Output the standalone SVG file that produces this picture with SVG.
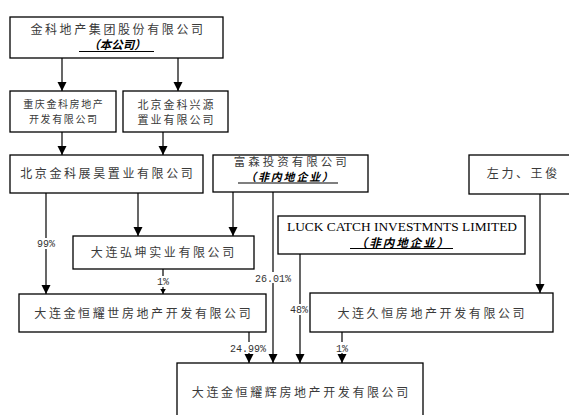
<svg xmlns="http://www.w3.org/2000/svg" width="569" height="415" viewBox="0 0 569 415">
<defs>
<style>
.box{fill:#fff;stroke:#000;stroke-width:1.3}
.t{font-family:"Noto Sans CJK SC","Liberation Serif",sans-serif;font-size:12px;fill:#3a3a3a;text-anchor:middle;letter-spacing:2.6px}
.s{font-size:10px;letter-spacing:1.6px}
.m{font-size:11px;letter-spacing:2px}
.em{font-family:"Noto Sans CJK SC",sans-serif;font-size:11.5px;font-weight:bold;font-style:italic;fill:#000;text-anchor:middle}
.en{font-family:"Liberation Serif",serif;font-size:12px;fill:#000;text-anchor:middle}
.ul{stroke:#000;stroke-width:1.2}
.c{fill:none;stroke:#000;stroke-width:1.2}
.lbl{font-family:"Liberation Mono",monospace;font-size:10px;fill:#333;text-anchor:middle}
.bg{fill:#fff}
</style>
<marker id="ah" markerUnits="userSpaceOnUse" markerWidth="10" markerHeight="10" viewBox="0 -5 10 10" refX="9" refY="0" orient="auto">
<path d="M0,-4.5 L9,0 L0,4.5 Z" fill="#000"/>
</marker>
<marker id="ahs" markerUnits="userSpaceOnUse" markerWidth="6" markerHeight="6" viewBox="0 -3 6 6" refX="5" refY="0" orient="auto">
<path d="M0,-2.8 L5,0 L0,2.8 Z" fill="#000"/>
</marker>
</defs>
<g id="connectors">
<line class="c" x1="62" y1="58" x2="62" y2="91" marker-end="url(#ah)"/>
<line class="c" x1="178" y1="58" x2="178" y2="91" marker-end="url(#ah)"/>
<line class="c" x1="62" y1="132" x2="62" y2="155" marker-end="url(#ah)"/>
<line class="c" x1="163" y1="132" x2="163" y2="155" marker-end="url(#ah)"/>
<line class="c" x1="46" y1="193" x2="46" y2="294" marker-end="url(#ah)"/>
<line class="c" x1="138" y1="193" x2="138" y2="236" marker-end="url(#ah)"/>
<line class="c" x1="233" y1="192" x2="233" y2="236" marker-end="url(#ah)"/>
<line class="c" x1="273" y1="192" x2="273" y2="363" marker-end="url(#ah)"/>
<line class="c" x1="540" y1="194" x2="540" y2="293" marker-end="url(#ah)"/>
<line class="c" x1="300" y1="254" x2="300" y2="363" marker-end="url(#ah)"/>
<line class="c" x1="163" y1="269" x2="163" y2="294" marker-end="url(#ahs)"/>
<line class="c" x1="249" y1="332" x2="249" y2="363" marker-end="url(#ah)"/>
<line class="c" x1="342" y1="332" x2="342" y2="363" marker-end="url(#ah)"/>
<rect class="bg" x="35" y="238" width="22" height="11"/>
<text class="lbl" x="46" y="247">99%</text>
<rect class="bg" x="156" y="276" width="14" height="11"/>
<text class="lbl" x="163" y="285">1%</text>
<rect class="bg" x="255" y="272" width="36" height="11"/>
<text class="lbl" x="273" y="282">26.01%</text>
<rect class="bg" x="289" y="304" width="20" height="11"/>
<text class="lbl" x="299" y="313">48%</text>
<rect class="bg" x="230" y="342" width="37" height="11"/>
<text class="lbl" x="248" y="352">24.99%</text>
<rect class="bg" x="335" y="342" width="14" height="11"/>
<text class="lbl" x="342" y="352">1%</text>
</g>
<g id="jinke">
<rect class="box" x="10" y="17" width="213" height="41"/>
<text class="t" x="118" y="33.5">金科地产集团股份有限公司</text>
<text class="em" x="117" y="49">（本公司）</text>
<line class="ul" x1="79" y1="51.5" x2="154" y2="51.5"/>
</g>
<g id="chongqing">
<rect class="box" x="10" y="91" width="106" height="41"/>
<text class="t s" x="63.8" y="108">重庆金科房地产</text>
<text class="t s" x="63.8" y="123">开发有限公司</text>
</g>
<g id="xingyuan">
<rect class="box" x="123" y="91" width="105" height="41"/>
<text class="t m" x="176.5" y="108.5">北京金科兴源</text>
<text class="t m" x="176.5" y="124">置业有限公司</text>
</g>
<g id="zhanhao">
<rect class="box" x="10" y="155" width="193" height="38"/>
<text class="t" x="107.8" y="177.5">北京金科展昊置业有限公司</text>
</g>
<g id="fusen">
<rect class="box" x="213" y="155" width="155" height="37"/>
<text class="t" x="291.8" y="166" style="font-size:11.5px;letter-spacing:3px">富森投资有限公司</text>
<text class="em" x="290" y="181" style="letter-spacing:1.8px;font-size:11px">（非内地企业）</text>
<line class="ul" x1="238" y1="183" x2="338" y2="183"/>
</g>
<g id="zuoli">
<rect class="box" x="469" y="155" width="105" height="39"/>
<text class="t" x="523.3" y="177.5">左力、王俊</text>
</g>
<g id="luckcatch">
<rect class="box" x="278" y="216" width="247" height="38"/>
<text class="en" x="402" y="231" textLength="230" lengthAdjust="spacingAndGlyphs">LUCK CATCH INVESTMNTS LIMITED</text>
<text class="em" x="403" y="246.5" style="letter-spacing:2px">（非内地企业）</text>
<line class="ul" x1="350" y1="248.5" x2="453" y2="248.5"/>
</g>
<g id="hongkun">
<rect class="box" x="73" y="236" width="181" height="33"/>
<text class="t" x="163.8" y="256.5">大连弘坤实业有限公司</text>
</g>
<g id="yaoshi">
<rect class="box" x="19" y="294" width="247" height="38"/>
<text class="t" x="143.8" y="317.5">大连金恒耀世房地产开发有限公司</text>
</g>
<g id="jiuheng">
<rect class="box" x="310" y="293" width="243" height="39"/>
<text class="t" x="432.3" y="317.5">大连久恒房地产开发有限公司</text>
</g>
<g id="yaohui">
<rect class="box" x="177" y="363" width="246" height="60"/>
<text class="t" x="301.3" y="396.5">大连金恒耀辉房地产开发有限公司</text>
</g>
</svg>
